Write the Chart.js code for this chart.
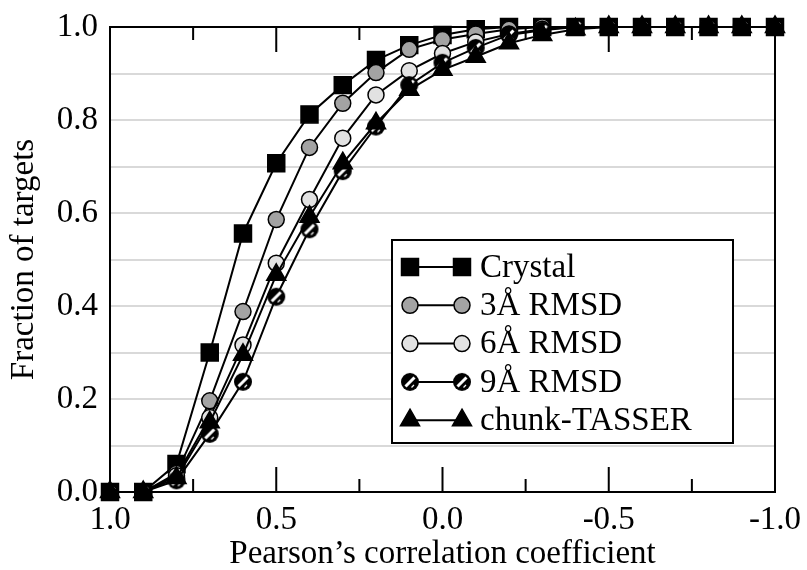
<!DOCTYPE html>
<html>
<head>
<meta charset="utf-8">
<script src="https://cdn.jsdelivr.net/npm/chart.js"></script>
<style>
  body { margin: 0; background: #fff; }
  canvas { display: block; }
</style>
</head>
<body>
<canvas id="myChart" width="807" height="570"></canvas>
<script>
// data
const xValues = [1.0, 0.9, 0.8, 0.7, 0.6, 0.5, 0.4, 0.3, 0.2, 0.1, 0.0,
  -0.1, -0.2, -0.3, -0.4, -0.5, -0.6, -0.7, -0.8, -0.9, -1.0];

const crystal = [0, 0, 0.06, 0.30, 0.556, 0.707, 0.812, 0.875, 0.929, 0.961, 0.983,
  0.995, 1, 1, 1, 1, 1, 1, 1, 1, 1];
const rmsd3 = [0, 0, 0.04, 0.196, 0.388, 0.586, 0.741, 0.836, 0.902, 0.952, 0.973,
  0.985, 0.995, 1, 1, 1, 1, 1, 1, 1, 1];
const rmsd6 = [0, 0, 0.035, 0.16, 0.316, 0.492, 0.629, 0.761, 0.854, 0.906, 0.943,
  0.968, 0.985, 0.995, 1, 1, 1, 1, 1, 1, 1];
const rmsd9 = [0, 0, 0.025, 0.125, 0.237, 0.42, 0.565, 0.69, 0.786, 0.875, 0.923,
  0.955, 0.983, 0.993, 1, 1, 1, 1, 1, 1, 1];
const chunk = [0, 0, 0.03, 0.15, 0.295, 0.467, 0.592, 0.707, 0.793, 0.865, 0.908,
  0.936, 0.965, 0.983, 0.995, 1, 1, 1, 1, 1, 1];

const seriesLabels = ["Crystal", "3Å RMSD", "6Å RMSD", "9Å RMSD", "chunk-TASSER"];
const xTitle = "Pearson’s correlation coefficient";
const yTitle = "Fraction of targets";

const FONT = "'Liberation Serif', 'Times New Roman', serif";

// 9A marker: black disc with a white diagonal stripe
const hatchDot = document.createElement("canvas");
hatchDot.width = 20;
hatchDot.height = 20;
(function () {
  const c = hatchDot.getContext("2d");
  c.fillStyle = "black";
  c.beginPath();
  c.arc(10, 10, 9, 0, Math.PI * 2);
  c.fill();
  c.strokeStyle = "white";
  c.lineWidth = 3;
  c.beginPath();
  c.moveTo(5.5, 14.5);
  c.lineTo(14.5, 5.5);
  c.stroke();
  c.lineWidth = 1.2;
  c.beginPath();
  c.moveTo(11.5, 15.5);
  c.lineTo(14, 13);
  c.stroke();
})();

function toPoints(arr) {
  return arr.map((y, i) => ({ x: xValues[i], y: y }));
}

const styles = [
  { pointStyle: "rect", radius: 12, fill: "black" },
  { pointStyle: "circle", radius: 8, fill: "#a3a3a3" },
  { pointStyle: "circle", radius: 8, fill: "#e2e2e2" },
  { pointStyle: hatchDot, radius: 9, fill: "black" },
  { pointStyle: "triangle", radius: 11, fill: "black" },
];
const values = [crystal, rmsd3, rmsd6, rmsd9, chunk];

const data = {
  datasets: values.map((v, i) => ({
    label: seriesLabels[i],
    data: toPoints(v),
    borderColor: "black",
    borderWidth: 2,
    pointStyle: styles[i].pointStyle,
    pointRadius: styles[i].radius,
    pointBackgroundColor: styles[i].fill,
    pointBorderColor: "black",
    pointBorderWidth: 1.5,
    tension: 0,
    clip: false,
    order: 4 - i,
  })),
};

// plot frame + inner x ticks
const framePlugin = {
  id: "frame",
  beforeDatasetsDraw(chart) {
    const { ctx, chartArea: a, scales } = chart;
    ctx.save();
    ctx.strokeStyle = "black";
    ctx.lineWidth = 2;
    ctx.strokeRect(a.left, a.top, a.right - a.left, a.bottom - a.top);
    ctx.beginPath();
    for (let k = -4; k <= 4; k++) {
      const px = scales.x.getPixelForValue(k * 0.25);
      const len = k % 2 === 0 ? 25 : 13;
      ctx.moveTo(px, a.bottom);
      ctx.lineTo(px, a.bottom - len);
      ctx.moveTo(px, a.top);
      ctx.lineTo(px, a.top + len);
    }
    ctx.stroke();
    ctx.restore();
  },
};

function drawMarker(ctx, style, fill, x, y, r) {
  if (typeof style !== "string") {
    ctx.drawImage(style, x - style.width / 2, y - style.height / 2);
    return;
  }
  ctx.fillStyle = fill;
  ctx.strokeStyle = "black";
  ctx.lineWidth = 1.5;
  ctx.beginPath();
  if (style === "rect") {
    const s = r * Math.SQRT1_2;
    ctx.rect(x - s, y - s, 2 * s, 2 * s);
  } else if (style === "triangle") {
    ctx.moveTo(x, y - r);
    ctx.lineTo(x + r * Math.sqrt(3) / 2, y + r / 2);
    ctx.lineTo(x - r * Math.sqrt(3) / 2, y + r / 2);
    ctx.closePath();
  } else {
    ctx.arc(x, y, r, 0, Math.PI * 2);
  }
  ctx.fill();
  ctx.stroke();
}

// legend with marker-line-marker samples
const legendPlugin = {
  id: "boxLegend",
  afterDatasetsDraw(chart) {
    const { ctx } = chart;
    const left = 392, top = 240, width = 341, height = 203;
    ctx.save();
    ctx.fillStyle = "white";
    ctx.fillRect(left, top, width, height);
    ctx.strokeStyle = "black";
    ctx.lineWidth = 2;
    ctx.strokeRect(left, top, width, height);
    ctx.font = "33px " + FONT;
    ctx.textBaseline = "middle";
    seriesLabels.forEach((label, i) => {
      const y = 267 + i * 38.3;
      ctx.strokeStyle = "black";
      ctx.lineWidth = 2;
      ctx.beginPath();
      ctx.moveTo(410, y);
      ctx.lineTo(462, y);
      ctx.stroke();
      drawMarker(ctx, styles[i].pointStyle, styles[i].fill, 410, y, styles[i].radius);
      drawMarker(ctx, styles[i].pointStyle, styles[i].fill, 462, y, styles[i].radius);
      ctx.fillStyle = "black";
      ctx.fillText(label, 480, y + 1);
    });
    ctx.restore();
  },
};

const config = {
  type: "line",
  data: data,
  options: {
    responsive: false,
    animation: false,
    layout: {
      padding: { top: 27, right: 32, left: 0, bottom: 0 },
    },
    scales: {
      x: {
        type: "linear",
        min: -1,
        max: 1,
        reverse: true,
        grid: { display: false },
        border: { display: false },
        ticks: {
          stepSize: 0.5,
          color: "black",
          padding: 1,
          maxRotation: 0,
          font: { family: FONT, size: 33 },
          callback: (v) => v.toFixed(1),
        },
        title: {
          display: true,
          text: xTitle,
          color: "black",
          font: { family: FONT, size: 33 },
          padding: { top: 0, bottom: -4 },
        },
        afterFit: (scale) => {
          scale.height = 78;
          scale.paddingLeft = 0;
          scale.paddingRight = 0;
        },
      },
      y: {
        min: 0,
        max: 1,
        grid: { color: "#d9d9d9", lineWidth: 2, drawTicks: false },
        border: { display: false },
        ticks: {
          stepSize: 0.1,
          autoSkip: false,
          color: "black",
          padding: 12,
          font: { family: FONT, size: 33 },
          callback: (v, i) => (i % 2 === 0 ? v.toFixed(1) : ""),
        },
        title: {
          display: true,
          text: yTitle,
          color: "black",
          font: { family: FONT, size: 33 },
          padding: { top: 5, bottom: 0 },
        },
        afterFit: (scale) => {
          scale.width = 110;
          scale.paddingTop = 0;
          scale.paddingBottom = 0;
        },
      },
    },
    plugins: {
      legend: { display: false },
      tooltip: { enabled: false },
    },
  },
  plugins: [framePlugin, legendPlugin],
};

const myChart = new Chart(document.getElementById("myChart"), config);
</script>
</body>
</html>
